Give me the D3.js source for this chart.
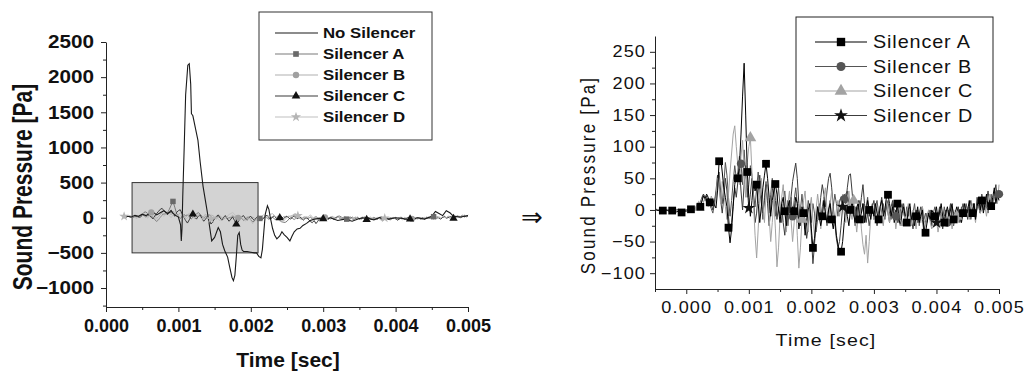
<!DOCTYPE html>
<html>
<head>
  <meta charset="utf-8">
  <title>Sound pressure with and without silencer</title>
  <script src="https://d3js.org/d3.v7.min.js"></script>
  <style>
    body { margin: 0; background: #fff; }
    svg { display: block; }
    text { font-family: "Liberation Sans", Arial, sans-serif; fill: #111; }
  </style>
</head>
<body>
<svg id="chart" width="1026" height="374"></svg>
<script>
  // recorded traces, one value every sampleStep seconds starting at sampleStart
  var sampleStart = -0.0005;
  var sampleStep = 0.000025;

  var silencerA = [
    0, 0, -1, 0, 0, -1, -1, 0, -1, -2, -2, -1, -2, -3, -3, -2, -3, -4, -3, -2,
    -2, -1, 0, 1, 0, 2, 4, 3, 2, 5, 14, 22, 18, 25, 20, 12, 10, 16, 8, 3,
    30, 77, 82, 60, 35, 20, 5, -28, -52, -30, 5, 40, 55, 50, 70, 120, 180, 232, 150, 60,
    20, -10, 15, 45, 30, 40, 10, -20, 5, 35, 55, 73, 50, 20, -10, 15, 30, 41, 25, 0,
    -20, 10, 20, -2, -25, 5, 15, -15, 5, -2, 20, 10, -30, -15, 5, -5, -40, -20, 0, 10,
    -30, -60, -45, -20, 5, -10, -25, -10, 15, -5, -20, 0, 10, -15, -30, -10, -40, -55, -66, -66,
    -50, -20, 5, -10, -25, 0, 15, -5, -20, 5, 10, -15, -5, 10, -20, -5, 15, 0, -15, 5,
    -10, 10, -5, -15, 5, 15, -10, 0, 20, 24, 10, -10, 5, -20, -5, 10, -15, -25, -5, 5,
    -10, -20, 0, 10, -15, -5, -25, -10, 5, -20, -10, 0, -30, -36, -20, -5, -15, 0, -5, -10,
    5, -15, -5, 10, -10, -20, -5, 5, -10, 0, 10, -15, -5, 5, -10, 0, -20, -5, 10, -10,
    0, 15, -10, -5, 10, -15, 5, 20, 0, 15, -5, 10, 25, 5, 15, 6, 20, 35, 10, 25, 15
  ];
  var silencerB = [
    0, 1, 0, 0, -1, 0, 1, 0, 0, -1, 0, 0, -1, 0, 1, 0, -1, 0, 0, -1,
    0, 1, 0, -1, 2, 1, 3, 2, 5, 8, 15, 25, 20, 12, 18, 8, 2, -5, 10, 25,
    45, 60, 30, 10, 40, 75, 55, 20, -10, 15, 45, 70, 50, 60, 85, 73, 40, 95, 60, 20,
    40, 70, 55, 25, 5, 35, 60, 30, 10, -15, 20, 45, 15, -5, 25, 50, 20, -10, 15, 35,
    5, -20, 10, 30, 0, -25, 5, 20, -10, 15, 35, 10, -20, 0, 25, -5, -30, -10, 15, 0,
    -20, 10, -5, -35, -15, 10, -10, 5, 20, -5, -25, 0, 15, -15, 5, 25, 10, -10, 15, 20,
    5, 17, 25, 30, 10, -5, 15, -10, 5, -20, 0, 15, -5, 10, -15, 5, 20, -10, 0, 10,
    -15, 5, 15, -5, -20, 0, 10, -10, 5, 15, -5, -15, 10, 0, -10, 5, -20, 0, 10, -5,
    -15, 5, -10, 0, -20, -5, 10, -15, 0, -25, -5, 5, -15, -5, -20, 0, -10, -25, -5, 5,
    -10, -20, 0, -5, -15, 5, -10, -20, 0, -15, 5, -5, -20, -10, 0, -15, 5, -10, -5, 10,
    -5, 5, -15, 0, 10, -10, 5, 15, -5, 10, 0, 20, 5, -5, 15, 25, 10, 20, 30, 15, 25
  ];
  var silencerC = [
    0, 0, 1, 0, 0, -1, 0, 0, 1, 0, -1, 0, 0, 1, 0, 0, -1, 0, 0, 1,
    0, -1, 1, 0, 2, 0, 3, 5, 4, 10, 18, 12, 20, 15, 5, 10, 22, 15, 5, 20,
    50, 35, 10, 45, 30, 5, -15, 25, 60, 90, 120, 133, 100, 70, 40, 85, 110, 60, 20, 75,
    100, 114, 60, 10, -40, -76, -30, 20, 50, 10, -20, 25, 40, -10, -50, -20, 15, -30, -90, -60,
    -10, 20, 40, 0, -35, 10, 30, -15, -50, -20, 10, -40, -92, -60, -15, 15, 30, -10, -35, 5,
    20, -15, -40, 0, 25, 5, -30, -10, 20, 35, 0, -20, 10, 30, -5, -25, 0, 15, -10, 5,
    25, -5, -20, 10, 30, 0, -15, 15, -10, -35, -10, 5, -30, -55, -70, -40, -84, -50, -10, 5,
    -15, 10, 0, -20, 5, -10, -25, 0, 15, -5, -20, 5, -10, 0, -30, -10, 10, -15, -5, 0,
    -20, -5, 10, -10, -25, 0, -15, -30, -5, -10, -20, 5, -15, -25, -10, 0, -20, -30, -10, -5,
    -15, -35, -20, -5, -10, -25, -15, 0, -20, -10, -30, -15, 0, -10, -20, -5, -15, 5, -10, -5,
    5, -15, 0, 10, -5, -20, 5, 15, -5, 0, 20, 5, -10, 10, 25, 15, 0, 20, 30, 10, 40
  ];
  var silencerD = [
    0, 0, 0, 1, 0, -1, 0, 0, 0, 1, 0, -1, 0, 0, 0, 1, 0, 0, -1, 0,
    0, 1, 0, 2, 1, 0, 2, 4, 6, 12, 20, 25, 15, 22, 10, 15, 8, 0, 12, 30,
    55, 40, 15, -5, 20, 50, 30, -10, -35, -20, 10, 35, 20, 45, 65, 30, 0, 40, 70, 35,
    3, 25, 50, 20, -20, -5, 30, 55, 25, -5, 15, 40, 10, -25, 0, 30, 45, 15, -15, 5,
    -10, 10, -20, -40, -10, 15, -5, 20, 45, 60, 74, 50, 10, -25, -10, 5, -20, -45, -25, 0,
    -40, -85, -55, -20, 5, -10, 20, 40, 25, 5, 30, 50, 58, 35, 5, -20, -45, -60, -50, -25,
    5, 25, 10, 35, 55, 57, 30, 0, -25, -10, 15, -5, 20, 40, 10, -20, -5, -25, -10, 5,
    15, -5, -25, -10, 5, 20, 0, -15, 10, -5, -20, 5, 15, -10, 0, -20, 5, -15, 0, 10,
    -10, -25, -5, 5, -15, -30, -10, 0, -20, -5, 5, -15, -35, -20, -5, -10, 0, -25, -15, -5,
    -20, -10, 5, -15, -30, -10, 0, -20, -5, 10, -15, -25, -5, -10, 5, -20, -5, 10, -10, 0,
    -15, 5, 15, -5, 10, -10, 20, 5, -5, 25, 10, 0, 15, 30, 10, 20, 5, 25, 40, 15, 30
  ];

  // trace without silencer (s, Pa)
  var noSilencerTime = [
    0.00025, 0.0003, 0.00035, 0.0004, 0.00045, 0.0005, 0.00055, 0.0006, 0.00065, 0.0007,
    0.00075, 0.0008, 0.00085, 0.0009, 0.00095, 0.001, 0.00103, 0.00104, 0.00105, 0.00106,
    0.00108, 0.0011, 0.00113, 0.00115, 0.00117, 0.00118, 0.0012, 0.00124, 0.00127, 0.0013,
    0.00134, 0.00138, 0.00142, 0.00146, 0.0015, 0.00155, 0.00158, 0.00161, 0.00164, 0.00168,
    0.00171, 0.00174, 0.00176, 0.00178, 0.0018, 0.00182, 0.00184, 0.00186, 0.00188, 0.0019,
    0.00195, 0.002, 0.00205, 0.00208, 0.00211, 0.00214, 0.00216, 0.00218, 0.0022, 0.00223,
    0.00225, 0.00227, 0.0023, 0.00233, 0.00236, 0.0024, 0.00243, 0.00246, 0.0025, 0.00254,
    0.00257, 0.0026, 0.00264, 0.00268, 0.00272, 0.00277, 0.00282, 0.00288, 0.00295, 0.003,
    0.0031, 0.0032, 0.0033, 0.0034, 0.0035, 0.0036, 0.0037, 0.0038, 0.0039, 0.004,
    0.0041, 0.0042, 0.0043, 0.0044, 0.0045, 0.00455, 0.0046, 0.00465, 0.0047, 0.00475,
    0.0048, 0.0049, 0.005
  ];
  var noSilencerPressure = [
    0, 20, 10, 35, 20, 50, 30, 60, 80, 40,
    70, 100, 60, 90, 40, 10, -100, -330, -150, 300,
    1000, 1750, 2170, 2190, 1900, 1480, 1450, 1250, 1100, 800,
    450, 200, -50, -330, -280, -140, -200, -380, -470, -560,
    -710, -850, -895, -820, -550, -250, -210, -380, -460, -480,
    -480, -490, -500, -500, -550, -570, -450, -200, 50, 170,
    120, 0, -150, -250, -300, -260, -200, -240, -280, -330,
    -260, -200, -160, -150, -110, -80, -40, -20, -10, -30,
    0, -40, -20, -50, -10, 0, -30, 10, -20, 0,
    -10, -30, 0, -20, 20, 90, 60, 30, 100, 70,
    20, 10, 30
  ];

  // shaded window on the left plot that is enlarged on the right
  var zoomWindowTime = [0.00036, 0.0021];
  var zoomWindowPressure = [-500, 500];

  var leftXTicks = [0, 0.001, 0.002, 0.003, 0.004, 0.005];
  var leftXMinor = [0.0005, 0.0015, 0.0025, 0.0035, 0.0045];
  var leftYTicks = [-1000, -500, 0, 500, 1000, 1500, 2000, 2500];
  var leftYMinor = [-1250, -750, -250, 250, 750, 1250, 1750, 2250];
  var rightXTicks = [0, 0.001, 0.002, 0.003, 0.004, 0.005];
  var rightXMinor = [-0.0005, 0.0005, 0.0015, 0.0025, 0.0035, 0.0045];
  var rightYTicks = [-100, -50, 0, 50, 100, 150, 200, 250];
  var rightYMinor = [-75, -25, 25, 75, 125, 175, 225];

  var leftLegend = ["No Silencer", "Silencer A", "Silencer B", "Silencer C", "Silencer D"];
  var rightLegend = ["Silencer A", "Silencer B", "Silencer C", "Silencer D"];

  var svg = d3.select("#chart");
  svg.append("rect").attr("width", 1026).attr("height", 374).attr("fill", "#fff");

  function toPoints(values) {
    return values.map(function (v, i) { return [sampleStart + i * sampleStep, v]; });
  }

  function drawAxes(xs, ys, o) {
    var y0 = ys.range()[0], x0 = xs.range()[0];
    var gx = svg.append("g").attr("transform", "translate(0," + y0 + ")");
    gx.call(d3.axisBottom(xs).tickValues(o.xTicks).tickFormat(d3.format(".3f"))
      .tickSize(5).tickSizeOuter(0).tickPadding(o.xPad));
    var gxm = svg.append("g").attr("transform", "translate(0," + y0 + ")");
    gxm.call(d3.axisBottom(xs).tickValues(o.xMinor).tickFormat("").tickSize(3));
    gxm.select(".domain").remove();

    var gy = svg.append("g").attr("transform", "translate(" + x0 + ",0)");
    gy.call(d3.axisLeft(ys).tickValues(o.yTicks).tickFormat(d3.format("d"))
      .tickSize(5).tickSizeOuter(0));
    var gym = svg.append("g").attr("transform", "translate(" + x0 + ",0)");
    gym.call(d3.axisLeft(ys).tickValues(o.yMinor).tickFormat("").tickSize(3));
    gym.select(".domain").remove();

    [gx, gxm, gy, gym].forEach(function (g) {
      g.selectAll(".domain, .tick line").attr("stroke", "#222").attr("stroke-width", 1);
    });
    gx.selectAll("text")
      .style("font-size", o.size + "px").style("font-weight", o.weight)
      .style("letter-spacing", o.spacing + "px")
      .attr("fill", "#111")
      .attr("transform", "scale(" + o.xStretch + ",1)");
    gy.selectAll("text")
      .style("font-size", o.size + "px").style("font-weight", o.weight)
      .style("letter-spacing", o.spacing + "px")
      .attr("fill", "#111")
      .attr("x", -o.yGap / o.yStretch)
      .attr("transform", "scale(" + o.yStretch + ",1)");
  }

  function drawMarkers(g, pts, every, first, shape, size, color) {
    var sym = d3.symbol().type(shape).size(size);
    g.selectAll(null)
      .data(pts.filter(function (d, i) { return i >= first && (i - first) % every === 0; }))
      .enter().append("path")
      .attr("d", sym)
      .attr("fill", color)
      .attr("transform", function (d) { return "translate(" + d.x + "," + d.y + ")"; });
  }

  // ---------------- left plot ----------------
  var lx = d3.scaleLinear().domain([0, 0.005]).range([106, 468]);
  var ly = d3.scaleLinear().domain([-1270, 2500]).range([307, 42]);

  svg.append("rect")
    .attr("x", lx(zoomWindowTime[0]))
    .attr("y", ly(zoomWindowPressure[1]))
    .attr("width", lx(zoomWindowTime[1]) - lx(zoomWindowTime[0]))
    .attr("height", ly(zoomWindowPressure[0]) - ly(zoomWindowPressure[1]))
    .attr("fill", "#d3d3d3")
    .attr("stroke", "#333")
    .attr("stroke-width", 1);

  var leftSeries = [
    { values: silencerA, color: "#7a7a7a", marker: "#6a6a6a", shape: d3.symbolSquare, first: 57, every: 48 },
    { values: silencerB, color: "#b0b0b0", marker: "#a0a0a0", shape: d3.symbolCircle, first: 45, every: 48 },
    { values: silencerC, color: "#3a3a3a", marker: "#111", shape: d3.symbolTriangle, first: 68, every: 24 },
    { values: silencerD, color: "#c0c0c0", marker: "#b5b5b5", shape: d3.symbolStar, first: 30, every: 48 }
  ];
  var leftLine = d3.line().x(function (d) { return lx(d[0]); }).y(function (d) { return ly(d[1]); });

  var gLeft = svg.append("g");
  leftSeries.forEach(function (s) {
    var pts = toPoints(s.values).filter(function (d) { return d[0] >= 0.00025; });
    gLeft.append("path").datum(pts)
      .attr("d", leftLine).attr("fill", "none")
      .attr("stroke", s.color).attr("stroke-width", 1);
  });
  gLeft.append("path")
    .datum(noSilencerTime.map(function (t, i) { return [t, noSilencerPressure[i]]; }))
    .attr("d", leftLine).attr("fill", "none")
    .attr("stroke", "#1a1a1a").attr("stroke-width", 1.1);
  leftSeries.forEach(function (s) {
    var pts = toPoints(s.values).map(function (d) { return { x: lx(d[0]), y: ly(d[1]) }; });
    drawMarkers(gLeft, pts, s.every, s.first, s.shape, 30, s.marker);
  });

  drawAxes(lx, ly, {
    xTicks: leftXTicks, xMinor: leftXMinor, yTicks: leftYTicks, yMinor: leftYMinor,
    xPad: 7, yGap: 12, size: 18, weight: "bold", spacing: 0, xStretch: 1.0, yStretch: 1.15
  });

  svg.append("text")
    .attr("x", 288).attr("y", 367)
    .attr("text-anchor", "middle")
    .style("font-size", "21px").style("font-weight", "bold")
    .text("Time [sec]");
  svg.append("text")
    .attr("transform", "translate(22,187) rotate(-90) scale(1,1.3)")
    .attr("text-anchor", "middle").attr("dy", "0.36em")
    .style("font-size", "21px").style("font-weight", "bold")
    .text("Sound Pressure [Pa]");

  // left legend
  var legL = svg.append("g");
  legL.append("rect").attr("x", 259).attr("y", 12).attr("width", 173).attr("height", 128)
    .attr("fill", "#fff").attr("stroke", "#333").attr("stroke-width", 1);
  var leftLegendStyle = [
    { color: "#1a1a1a", marker: null, shape: null },
    { color: "#7a7a7a", marker: "#6a6a6a", shape: d3.symbolSquare },
    { color: "#b0b0b0", marker: "#a0a0a0", shape: d3.symbolCircle },
    { color: "#3a3a3a", marker: "#111", shape: d3.symbolTriangle },
    { color: "#c0c0c0", marker: "#b5b5b5", shape: d3.symbolStar }
  ];
  leftLegend.forEach(function (name, i) {
    var y = 33 + i * 21;
    var st = leftLegendStyle[i];
    legL.append("line").attr("x1", 275).attr("x2", 318).attr("y1", y).attr("y2", y)
      .attr("stroke", st.color).attr("stroke-width", 1.1);
    if (st.shape) {
      legL.append("path").attr("d", d3.symbol().type(st.shape).size(32))
        .attr("fill", st.marker).attr("transform", "translate(296," + y + ")");
    }
    legL.append("text")
      .attr("transform", "translate(323," + (y + 5) + ") scale(1.2,1)")
      .style("font-size", "14px").style("font-weight", "bold")
      .text(name);
  });

  // arrow between the plots
  svg.append("text")
    .attr("x", 532).attr("y", 226)
    .attr("text-anchor", "middle")
    .style("font-family", "DejaVu Sans, sans-serif")
    .style("font-size", "26px")
    .text("\u21D2");

  // ---------------- right plot ----------------
  var rx = d3.scaleLinear().domain([-0.0005, 0.005]).range([655, 999]);
  var ry = d3.scaleLinear().domain([-125, 275]).range([289, 36]);
  var rightLine = d3.line().x(function (d) { return rx(d[0]); }).y(function (d) { return ry(d[1]); });

  var rightSeries = {
    A: { values: silencerA, color: "#000", marker: "#000", shape: d3.symbolSquare, size: 60, every: 6, first: 5 },
    B: { values: silencerB, color: "#555", marker: "#555", shape: d3.symbolCircle, size: 55, every: 33, first: 55 },
    C: { values: silencerC, color: "#a3a3a3", marker: "#a3a3a3", shape: d3.symbolTriangle, size: 60, every: 33, first: 28 },
    D: { values: silencerD, color: "#3c3c3c", marker: "#111", shape: d3.symbolStar, size: 50, every: 60, first: 60 }
  };
  var drawOrder = ["B", "D", "C", "A"];
  var gRight = svg.append("g");
  drawOrder.forEach(function (k) {
    var s = rightSeries[k];
    gRight.append("path").datum(toPoints(s.values))
      .attr("d", rightLine).attr("fill", "none")
      .attr("stroke", s.color).attr("stroke-width", 1);
  });
  drawOrder.forEach(function (k) {
    var s = rightSeries[k];
    var pts = toPoints(s.values).map(function (d) { return { x: rx(d[0]), y: ry(d[1]) }; });
    drawMarkers(gRight, pts, s.every, s.first, s.shape, s.size, s.marker);
  });

  drawAxes(rx, ry, {
    xTicks: rightXTicks, xMinor: rightXMinor, yTicks: rightYTicks, yMinor: rightYMinor,
    xPad: 8, yGap: 9, size: 16, weight: "normal", spacing: 1, xStretch: 1.13, yStretch: 1.13
  });

  svg.append("text")
    .attr("transform", "translate(826,346) scale(1.15,1)")
    .attr("text-anchor", "middle")
    .style("font-size", "17px").style("letter-spacing", "1px")
    .text("Time [sec]");
  svg.append("text")
    .attr("transform", "translate(588,175) rotate(-90) scale(1,1.15)")
    .attr("text-anchor", "middle").attr("dy", "0.36em")
    .style("font-size", "17px").style("letter-spacing", "2.2px")
    .text("Sound Pressure [Pa]");

  // right legend
  var legR = svg.append("g");
  legR.append("rect").attr("x", 796).attr("y", 17).attr("width", 197).attr("height", 125)
    .attr("fill", "#fff").attr("stroke", "#222").attr("stroke-width", 1);
  ["A", "B", "C", "D"].forEach(function (k, i) {
    var s = rightSeries[k];
    var y = 42 + i * 24.5;
    legR.append("line").attr("x1", 815).attr("x2", 867).attr("y1", y).attr("y2", y)
      .attr("stroke", s.color).attr("stroke-width", 1.2);
    legR.append("path").attr("d", d3.symbol().type(s.shape).size(s.size + 10))
      .attr("fill", s.marker).attr("transform", "translate(841," + y + ")");
    legR.append("text")
      .attr("transform", "translate(873," + (y + 6) + ") scale(1.1,1)")
      .style("font-size", "18px").style("letter-spacing", "0.8px")
      .text(rightLegend[i]);
  });
</script>
</body>
</html>
